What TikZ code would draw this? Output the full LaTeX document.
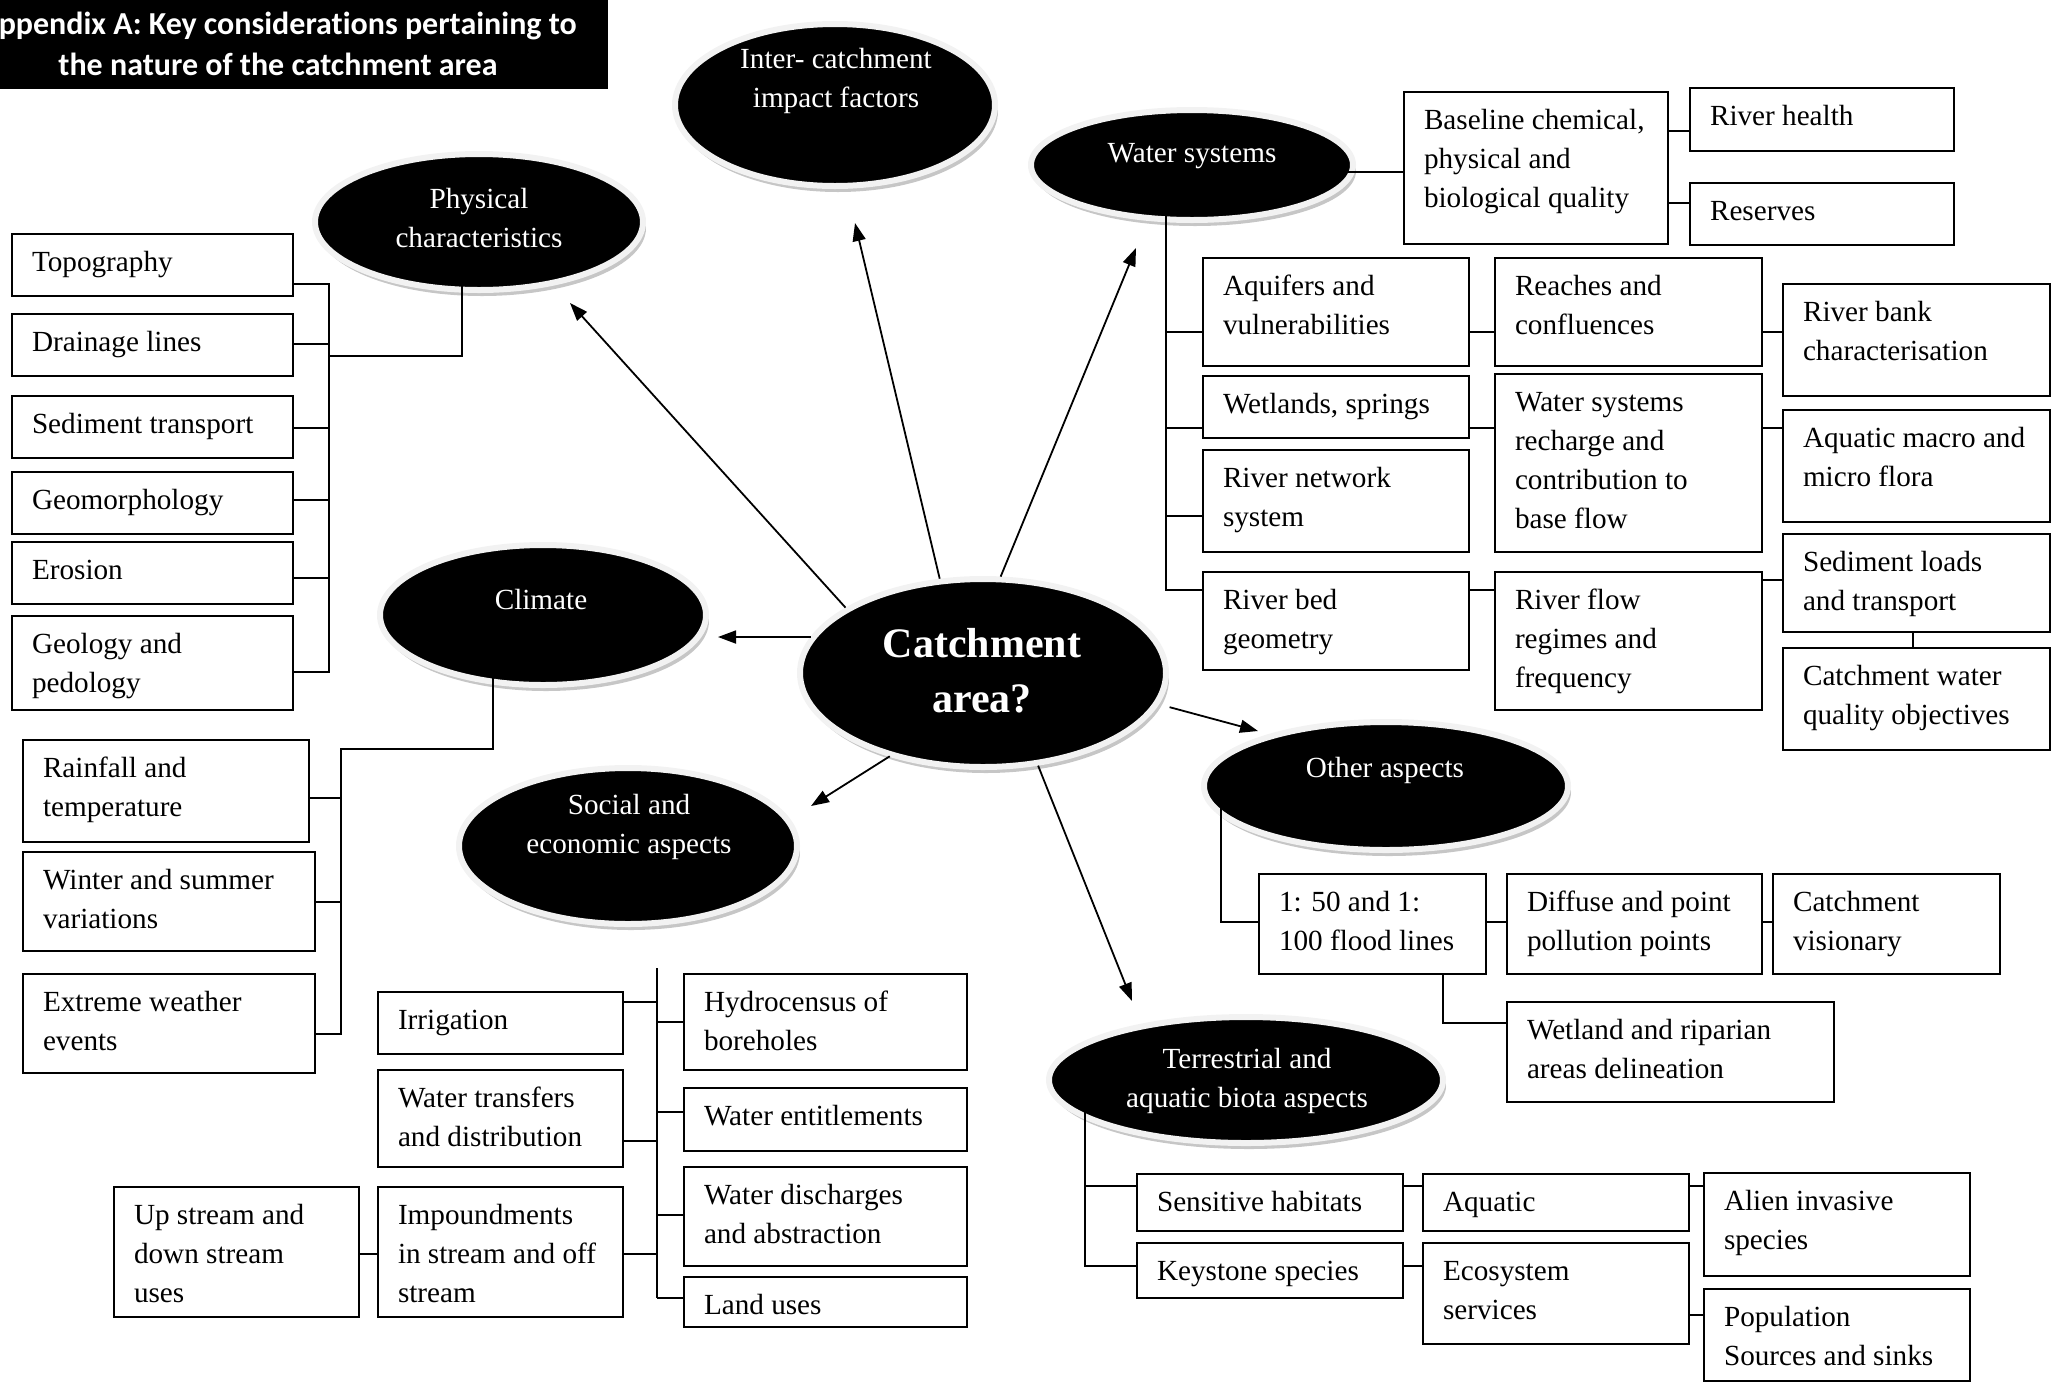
\documentclass[tikz,border=0pt]{standalone}
\usepackage{fontspec}
\setmainfont{Liberation Serif}
\newfontfamily\titlefont[Ligatures=NoCommon]{Carlito}
\usetikzlibrary{shapes.geometric,arrows.meta,calc,shadows}
\newcommand{\bodyfont}{\fontsize{14.6pt}{19.5pt}\selectfont}
\newcommand{\bx}[6]{\node[box,anchor=north west] (#1) at (#2,#3) {\vbox to \dimexpr(#5pt-#3pt)/2\relax{\hsize=\dimexpr(#4pt-#2pt)/2\relax\leftskip=10pt\rightskip=0pt plus 1fil\parindent=0pt\parskip=0pt\parfillskip=0pt plus 1fil\bodyfont\def\\{\par}\rule{0pt}{18.5pt}#6\par\vfill}};}
\begin{document}
\begin{tikzpicture}[x=0.5pt,y=-0.5pt,
  box/.style={draw,line width=1pt,inner sep=0pt,outer sep=0pt,fill=white},
  ell/.style={ellipse,fill=black,draw=gray!10,line width=3pt,inner sep=0pt,outer sep=0pt,
     drop shadow={shadow xshift=1.5pt,shadow yshift=-3pt,fill=gray!45,opacity=1}},
  etext/.style={text=white,align=center,font=\bodyfont,inner sep=0pt,anchor=base},
  con/.style={line width=1pt},
  arr/.style={-{Triangle[length=9pt,width=6.5pt]},line width=0.9pt}]
\useasboundingbox (0,0) rectangle (2055,1382);

% title (its first letter is cut by the left edge, as in the original)
\node[fill=black,anchor=north west,minimum width=304pt,minimum height=44.5pt,inner sep=0pt] (titlebox) at (0,0) {};
\node[text=white,align=center,anchor=base,inner sep=0pt,font=\titlefont\bfseries\fontsize{16pt}{20.5pt}\selectfont] (title) at (278,75) {Appendix A: Key considerations pertaining to\\the nature of the catchment area};

% ellipses
\node[ell,minimum width=164pt,minimum height=68pt] (phys) at (479,222) {};
\node[ell,minimum width=160pt,minimum height=81pt] (inter) at (835,105) {};
\node[ell,minimum width=161pt,minimum height=55pt] (ws) at (1192,165) {};
\node[ell,minimum width=163pt,minimum height=70pt] (clim) at (543,615) {};
\node[ell,minimum width=169pt,minimum height=78pt] (soc) at (628,846) {};
\node[ell,minimum width=183pt,minimum height=94pt] (catch) at (983,673) {};
\node[ell,minimum width=182pt,minimum height=64pt] (oa) at (1386,786) {};
\node[ell,minimum width=197pt,minimum height=63pt] (terr) at (1246,1080) {};

% ellipse texts (anchor base = baseline of the last line)
\node[etext] (phys-t) at (479,247) {Physical\\characteristics};
\node[etext] (inter-t) at (836,107) {Inter- catchment\\impact factors};
\node[etext] (ws-t) at (1192,162) {Water systems};
\node[etext] (clim-t) at (541,609) {Climate};
\node[etext] (soc-t) at (629,853) {Social and\\economic aspects};
\node[etext,font=\fontsize{21pt}{27.5pt}\selectfont\bfseries] (catch-t) at (982,712) {Catchment\\area?};
\node[etext] (oa-t) at (1385,777) {Other aspects};
\node[etext] (terr-t) at (1247,1107) {Terrestrial and\\aquatic biota aspects};

% physical boxes
\bx{topo}{12}{234}{293}{296}{Topography}
\bx{drain}{12}{314}{293}{376}{Drainage lines}
\bx{sed}{12}{396}{293}{458}{Sediment transport}
\bx{geom}{12}{472}{293}{534}{Geomorphology}
\bx{eros}{12}{542}{293}{604}{Erosion}
\bx{geol}{12}{616}{293}{710}{Geology and\\pedology}

% climate boxes
\bx{rain}{23}{740}{309}{842}{Rainfall and\\temperature}
\bx{wint}{23}{852}{315}{951}{Winter and summer\\variations}
\bx{extr}{23}{974}{315}{1073}{Extreme weather\\events}

% social boxes
\bx{irr}{378}{992}{623}{1054}{Irrigation}
\bx{trans}{378}{1070}{623}{1167}{Water transfers\\and distribution}
\bx{imp}{378}{1187}{623}{1317}{Impoundments\\in stream and off\\stream}
\bx{ups}{114}{1187}{359}{1317}{Up stream and\\down stream\\uses}
\bx{hydro}{684}{974}{967}{1070}{Hydrocensus of\\boreholes}
\bx{ent}{684}{1088}{967}{1151}{Water entitlements}
\bx{disch}{684}{1167}{967}{1266}{Water discharges\\and abstraction}
\bx{land}{684}{1277}{967}{1327}{Land uses}

% water systems boxes
\bx{base}{1404}{92}{1668}{244}{Baseline chemical,\\physical and\\biological quality}
\bx{rh}{1690}{88}{1954}{151}{River health}
\bx{res}{1690}{183}{1954}{245}{Reserves}
\bx{aq}{1203}{258}{1469}{366}{Aquifers and\\vulnerabilities}
\bx{wet}{1203}{376}{1469}{438}{Wetlands, springs}
\bx{rnet}{1203}{450}{1469}{552}{River network\\system}
\bx{rbed}{1203}{572}{1469}{670}{River bed\\geometry}
\bx{reach}{1495}{258}{1762}{366}{Reaches and\\confluences}
\bx{rech}{1495}{374}{1762}{552}{Water systems\\recharge and\\contribution to\\base flow}
\bx{rflow}{1495}{572}{1762}{710}{River flow\\regimes and\\frequency}
\bx{rbank}{1783}{284}{2050}{396}{River bank\\characterisation}
\bx{aqm}{1783}{410}{2050}{522}{Aquatic macro and\\micro flora}
\bx{sedl}{1783}{534}{2050}{632}{Sediment loads\\and transport}
\bx{cwq}{1783}{648}{2050}{750}{Catchment water\\quality objectives}

% other aspects boxes
\bx{flood}{1259}{874}{1486}{974}{1: 50 and 1:\\100 flood lines}
\bx{diff}{1507}{874}{1762}{974}{Diffuse and point\\pollution points}
\bx{cvis}{1773}{874}{2000}{974}{Catchment\\visionary}
\bx{wetl}{1507}{1002}{1834}{1102}{Wetland and riparian\\areas delineation}

% terrestrial boxes
\bx{sens}{1137}{1174}{1403}{1231}{Sensitive habitats}
\bx{key}{1137}{1243}{1403}{1298}{Keystone species}
\bx{aqua}{1423}{1174}{1689}{1231}{Aquatic}
\bx{eco}{1423}{1243}{1689}{1344}{Ecosystem\\services}
\bx{alien}{1704}{1173}{1970}{1276}{Alien invasive\\species}
\bx{pop}{1704}{1289}{1970}{1381}{Population\\Sources and sinks}

% arrows from the centre
\coordinate (tphys) at (570,303);
\coordinate (tinter) at (855,223);
\coordinate (tws) at (1136,248);
\coordinate (tclim) at (718,637);
\coordinate (tsoc) at (811,806);
\coordinate (toa) at (1258,731);
\coordinate (tterr) at (1132,1001);
\draw[arr,shorten <=1.5pt] (catch.155.7) -- (tphys);
\draw[arr,shorten <=1.5pt] (catch.115) -- (tinter);
\draw[arr,shorten <=1.5pt] (catch.80) -- (tws);
\draw[arr,shorten <=1.5pt] (catch.168) -- (tclim);
\draw[arr,shorten <=1.5pt] (catch.222.6) -- (tsoc);
\draw[arr,shorten <=7pt] (catch.-10) -- (toa);
\draw[arr,shorten <=1.5pt] (catch.-59.7) -- (tterr);

% physical tree
\draw[con] ($(topo.north east)+(0,50)$) -- ++(36,0) -- ($(geol.north east)+(36,56)$) -- ++(-36,0);
\draw[con] ($(drain.north east)+(0,30)$) -- ++(36,0);
\draw[con] ($(sed.north east)+(0,32)$) -- ++(36,0);
\draw[con] ($(geom.north east)+(0,28)$) -- ++(36,0);
\draw[con] ($(eros.north east)+(0,36)$) -- ++(36,0);
\draw[con] ($(drain.north east)+(36,42)$) -| ($(phys.center)+(-17,30)$);

% climate tree
\draw[con] ($(rain.north east)+(0,58)$) -- ++(32,0);
\draw[con] ($(wint.north east)+(0,50)$) -- ++(26,0);
\draw[con] ($(extr.north east)+(0,60)$) -- ++(26,0) |- ($(clim.center)+(-50,134)$) -- ($(clim.center)+(-50,40)$);

% social tree
\coordinate (socbus) at ($(hydro.north west)+(-27,-6)$);
\draw[con] (socbus) -- ($(land.north west)+(-27,21)$);
\draw[con] ($(irr.north east)+(0,10)$) -- ++(34,0);
\draw[con] ($(trans.north east)+(0,71)$) -- ++(34,0);
\draw[con] ($(imp.north east)+(0,67)$) -- ++(34,0);
\draw[con] ($(hydro.north west)+(0,48)$) -- ++(-27,0);
\draw[con] ($(ent.north west)+(0,24)$) -- ++(-27,0);
\draw[con] ($(disch.north west)+(0,48)$) -- ++(-27,0);
\draw[con] ($(land.north west)+(0,21)$) -- ++(-27,0);
\draw[con] ($(ups.north east)+(0,67)$) -- ($(imp.north west)+(0,67)$);

% water systems tree
\draw[con] ($(ws.center)+(100,7)$) -- ($(base.north west)+(0,80)$);
\draw[con] ($(base.north east)+(0,39)$) -- ($(rh.north west)+(0,43)$);
\draw[con] ($(base.north east)+(0,111)$) -- ($(res.north west)+(0,20)$);
\draw[con] ($(ws.center)+(-26,30)$) |- ($(rbed.north west)+(0,18)$);
\draw[con] ($(aq.north west)+(-37,74)$) -- ++(37,0);
\draw[con] ($(wet.north west)+(-37,52)$) -- ++(37,0);
\draw[con] ($(rnet.north west)+(-37,66)$) -- ++(37,0);
\draw[con] ($(aq.north east)+(0,74)$) -- ($(reach.north west)+(0,74)$);
\draw[con] ($(reach.north east)+(0,74)$) -- ($(rbank.north west)+(0,48)$);
\draw[con] ($(wet.north east)+(0,52)$) -- ($(rech.north west)+(0,54)$);
\draw[con] ($(rech.north east)+(0,54)$) -- ($(aqm.north west)+(0,18)$);
\draw[con] ($(rbed.north east)+(0,18)$) -- ($(rflow.north west)+(0,18)$);
\draw[con] ($(rflow.north east)+(0,8)$) -- ($(sedl.north west)+(0,46)$);
\draw[con] ($(sedl.south west)+(130,0)$) -- ($(cwq.north west)+(130,0)$);

% other aspects tree
\draw[con] ($(oa.center)+(-165,15)$) |- ($(flood.north west)+(0,48)$);
\draw[con] ($(flood.north east)+(0,48)$) -- ($(diff.north west)+(0,48)$);
\draw[con] ($(diff.north east)+(0,48)$) -- ($(cvis.north west)+(0,48)$);
\draw[con] ($(flood.south west)+(184,0)$) |- ($(wetl.north west)+(0,21)$);

% terrestrial tree
\draw[con] ($(terr.center)+(-161,20)$) |- ($(key.north west)+(0,23)$);
\draw[con] ($(sens.north west)+(-52,12)$) -- ++(52,0);
\draw[con] ($(sens.north east)+(0,12)$) -- ($(aqua.north west)+(0,12)$);
\draw[con] ($(aqua.north east)+(0,12)$) -- ($(alien.north west)+(0,13)$);
\draw[con] ($(key.north east)+(0,23)$) -- ($(eco.north west)+(0,23)$);
\draw[con] ($(eco.north east)+(0,72)$) -- ($(pop.north west)+(0,26)$);
\end{tikzpicture}
\end{document}
